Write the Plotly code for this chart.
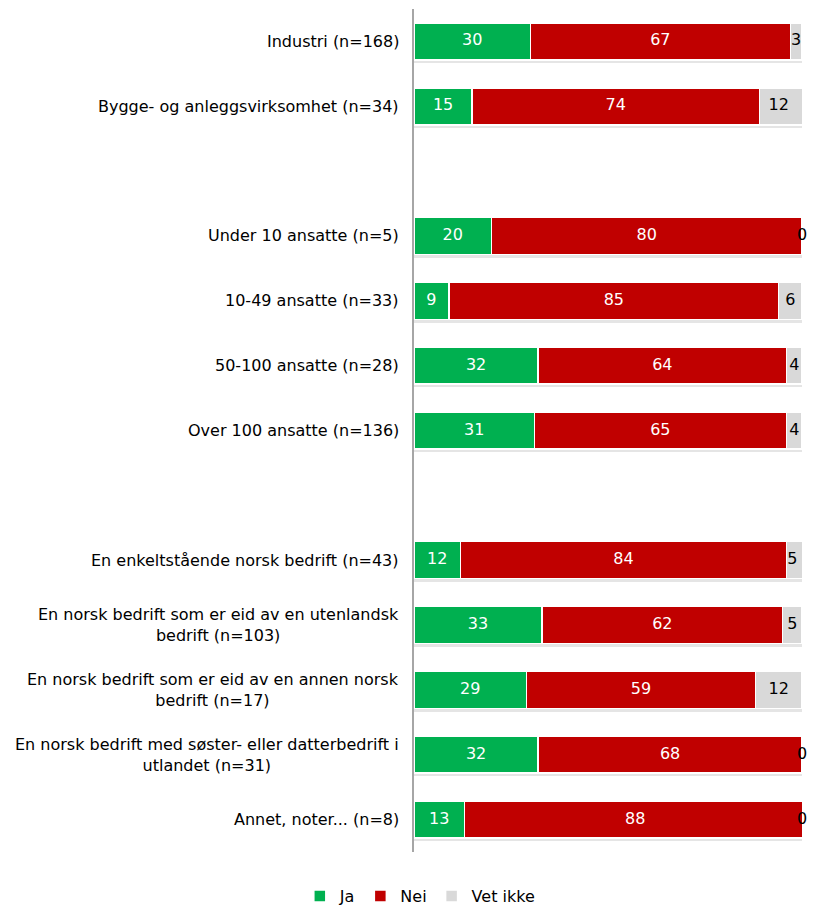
import plotly.graph_objects as go

categories = [
    "Industri (n=168)",
    "Bygge- og anleggsvirksomhet (n=34)",
    "Under 10 ansatte (n=5)",
    "10-49 ansatte (n=33)",
    "50-100 ansatte (n=28)",
    "Over 100 ansatte (n=136)",
    "En enkeltstående norsk bedrift (n=43)",
    "En norsk bedrift som er eid av en utenlandsk<br>bedrift (n=103)",
    "En norsk bedrift som er eid av en annen norsk<br>bedrift (n=17)",
    "En norsk bedrift med søster- eller datterbedrift i<br>utlandet (n=31)",
    "Annet, noter... (n=8)",
]
rows = [0, 1, 3, 4, 5, 6, 8, 9, 10, 11, 12]
ja = [30, 15, 20, 9, 32, 31, 12, 33, 29, 32, 13]
nei = [67, 74, 80, 85, 64, 65, 84, 62, 59, 68, 88]
vet_ikke = [3, 12, 0, 6, 4, 4, 5, 5, 12, 0, 0]

GREEN = "#00B050"
RED = "#C00000"
GREY = "#D9D9D9"
FONT = "DejaVu Sans"
FS = 16

fig = go.Figure()
bw = 0.57

# soft shadow under each bar (drawn on the base axis, shifted slightly down)
totals = [min(a + b + c, 100) for a, b, c in zip(ja, nei, vet_ikke)]
fig.add_trace(go.Bar(
    y=rows, x=totals, orientation="h", width=bw, yaxis="y",
    marker=dict(color="rgba(0,0,0,0.10)", line=dict(width=0)),
    showlegend=False, hoverinfo="skip",
))

for name, vals, col in (("Ja", ja, GREEN), ("Nei", nei, RED), ("Vet ikke", vet_ikke, GREY)):
    fig.add_trace(go.Bar(
        name=name, y=rows, x=vals, orientation="h", width=bw, yaxis="y2",
        marker=dict(color=col, line=dict(color="white", width=1.5)),
        hoverinfo="skip",
    ))

# label positions: centre of each visible segment (the axis stops at 100)
mid_ja = [a / 2 for a in ja]
mid_nei = [a + b / 2 for a, b in zip(ja, nei)]
mid_vet = [min(a + b + c / 2, 100 - c / 2) for a, b, c in zip(ja, nei, vet_ikke)]
for mids, vals, tc in ((mid_ja, ja, "white"), (mid_nei, nei, "white"), (mid_vet, vet_ikke, "black")):
    fig.add_trace(go.Scatter(
        x=mids, y=rows, mode="text", text=[str(v) for v in vals], yaxis="y2",
        textfont=dict(color=tc, size=FS, family=FONT),
        showlegend=False, hoverinfo="skip", cliponaxis=False,
    ))

for r, c in zip(rows, categories):
    fig.add_annotation(
        x=0, xref="paper", y=r, yref="y2", text=c, showarrow=False,
        xanchor="right", yanchor="middle", align="center", xshift=-13,
        font=dict(size=FS, family=FONT, color="#000000"),
    )

shift = 0.05
fig.update_layout(
    barmode="stack",
    width=799, height=899,
    margin=dict(l=406, r=5, t=1, b=55, autoexpand=False),
    paper_bgcolor="white", plot_bgcolor="white",
    font=dict(family=FONT, size=FS, color="#000000"),
    legend=dict(
        orientation="h", x=0.015, xanchor="center", y=-0.032, yanchor="top",
        font=dict(size=FS, family=FONT), itemwidth=30, traceorder="normal",
    ),
    showlegend=True,
    xaxis=dict(range=[0, 100], showgrid=False, zeroline=False,
               showticklabels=False, showline=False, fixedrange=True),
    yaxis=dict(range=[12.5 - shift, -0.5 - shift], showgrid=False, zeroline=False,
               showticklabels=False, showline=False, fixedrange=True),
    yaxis2=dict(range=[12.5, -0.5], overlaying="y", side="left",
                showgrid=False, zeroline=False, showticklabels=False,
                showline=True, linecolor="#A6A6A6", linewidth=1.5, fixedrange=True),
)

fig.write_html("out.html")
